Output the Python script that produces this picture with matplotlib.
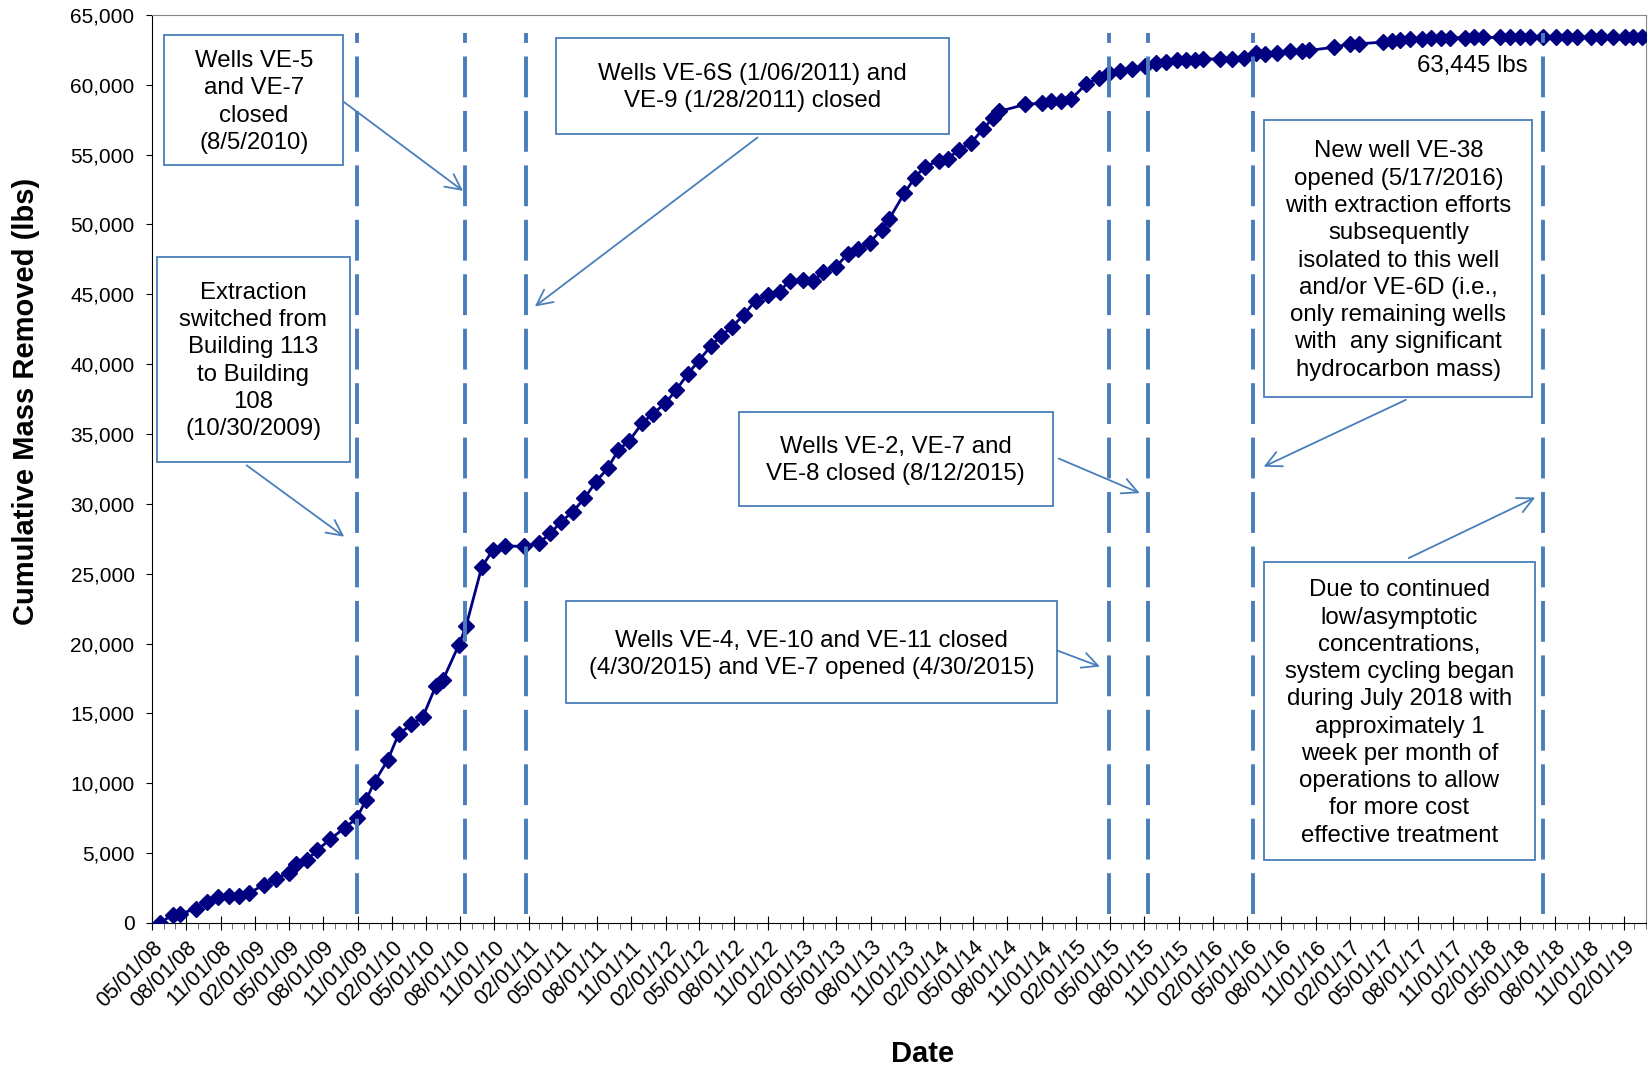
import matplotlib.pyplot as plt
import matplotlib.dates as mdates
import pandas as pd
from matplotlib.patches import Rectangle
from matplotlib.ticker import FuncFormatter, MultipleLocator

plt.rcParams['font.family'] = ['Liberation Sans', 'DejaVu Sans']

# sample dates and cumulative mass removed (lbs)
dates = [
    '2008-05-23', '2008-06-25', '2008-07-16', '2008-08-27', '2008-09-25', '2008-10-23', '2008-11-23', '2008-12-18',
    '2009-01-16', '2009-02-25', '2009-03-28', '2009-05-01', '2009-05-21', '2009-06-18', '2009-07-16', '2009-08-20',
    '2009-09-28', '2009-10-29', '2009-11-23', '2009-12-16',
    '2010-01-20', '2010-02-18', '2010-03-24', '2010-04-24', '2010-05-28', '2010-06-16', '2010-07-29', '2010-08-17',
    '2010-09-28', '2010-10-27', '2010-11-28',
    '2011-01-18', '2011-03-01', '2011-03-30', '2011-04-28', '2011-05-29', '2011-06-29', '2011-07-30', '2011-08-30',
    '2011-09-28', '2011-10-27', '2011-11-30', '2011-12-28',
    '2012-01-31', '2012-02-29', '2012-03-31', '2012-04-29', '2012-06-01', '2012-06-28', '2012-07-28', '2012-08-27',
    '2012-09-28', '2012-10-30', '2012-12-01', '2012-12-28',
    '2013-02-01', '2013-02-28', '2013-03-28', '2013-05-01', '2013-06-01', '2013-06-28', '2013-07-29', '2013-08-30',
    '2013-09-19', '2013-10-30', '2013-11-26', '2013-12-23',
    '2014-01-31', '2014-02-22', '2014-03-24', '2014-04-25', '2014-05-28', '2014-06-23', '2014-07-09', '2014-09-18',
    '2014-11-02', '2014-11-26', '2014-12-23',
    '2015-01-18', '2015-02-27', '2015-04-02', '2015-04-30', '2015-05-27', '2015-06-28', '2015-08-02', '2015-09-02',
    '2015-09-27', '2015-10-27', '2015-11-21', '2015-12-14',
    '2016-01-05', '2016-02-18', '2016-03-23', '2016-04-23', '2016-05-25', '2016-06-18', '2016-07-21', '2016-08-24',
    '2016-09-24', '2016-10-14', '2016-12-19',
    '2017-02-01', '2017-02-24', '2017-04-29', '2017-05-22', '2017-06-13', '2017-07-10', '2017-08-10', '2017-09-05',
    '2017-10-02', '2017-10-26', '2017-12-03', '2017-12-27',
    '2018-01-21', '2018-03-07', '2018-04-04', '2018-04-29', '2018-05-26', '2018-06-29', '2018-08-05', '2018-09-01',
    '2018-09-28', '2018-11-06', '2018-12-03',
    '2019-01-03', '2019-02-03', '2019-02-25', '2019-03-20',
]
mass = [
    0, 600, 650, 1030, 1500, 1860, 1910, 1930,
    2150, 2750, 3180, 3580, 4250, 4490, 5210, 6000, 6830, 7480, 8790, 10100,
    11650, 13500, 14210, 14760, 16930, 17360, 19910, 21230, 25470, 26670, 27000,
    26950, 27220, 27890, 28720, 29440, 30400, 31590, 32550, 33860, 34530, 35770, 36440,
    37200, 38160, 39300, 40240, 41310, 42030, 42690, 43530, 44550, 44960, 45200, 45990,
    46000, 45950, 46630, 46990, 47900, 48240, 48710, 49620, 50380, 52250, 53320, 54150,
    54560, 54680, 55350, 55830, 56830, 57620, 58090, 58600, 58690, 58810, 58810,
    58980, 60050, 60480, 60840, 60960, 61130, 61370, 61560, 61600, 61750, 61750, 61800,
    61850, 61850, 61850, 61920, 62280, 62230, 62280, 62390, 62390, 62460, 62690,
    62940, 62940, 63050, 63120, 63200, 63260, 63300, 63340, 63360, 63370, 63380, 63390,
    63395, 63400, 63405, 63410, 63415, 63420, 63425, 63428, 63430, 63433, 63436,
    63439, 63441, 63443, 63445,
]

# dates of system changes (dashed lines)
event_dates = ['2009-10-30', '2010-08-15', '2011-01-25', '2015-04-30', '2015-08-12', '2016-05-17', '2018-07-01']

notes = [
    'Wells VE-5\nand VE-7\nclosed\n(8/5/2010)',
    'Extraction\nswitched from\nBuilding 113\nto Building\n108\n(10/30/2009)',
    'Wells VE-6S (1/06/2011) and\nVE-9 (1/28/2011) closed',
    'Wells VE-2, VE-7 and\nVE-8 closed (8/12/2015)',
    'Wells VE-4, VE-10 and VE-11 closed\n(4/30/2015) and VE-7 opened (4/30/2015)',
    'New well VE-38\nopened (5/17/2016)\nwith extraction efforts\nsubsequently\nisolated to this well\n'
    'and/or VE-6D (i.e.,\nonly remaining wells\nwith  any significant\nhydrocarbon mass)',
    'Due to continued\nlow/asymptotic\nconcentrations,\nsystem cycling began\nduring July 2018 with\n'
    'approximately 1\nweek per month of\noperations to allow\nfor more cost\neffective treatment',
]
total_label = '63,445 lbs'

# box layout in axes fraction: (x0, x1, y_bottom, y_top), arrow tail -> head
boxes = [
    (0.0084, 0.1281, 0.8345, 0.978),
    (0.0035, 0.1323, 0.5081, 0.7338),
    (0.2702, 0.5334, 0.8692, 0.9745),
    (0.3927, 0.6031, 0.4595, 0.5625),
    (0.2773, 0.6059, 0.2419, 0.3542),
    (0.7445, 0.9240, 0.5787, 0.8843),
    (0.7445, 0.9254, 0.0694, 0.3970),
]
arrows = [
    ((0.1267, 0.9063), (0.2097, 0.8044)),
    ((0.0619, 0.5058), (0.1302, 0.4236)),
    ((0.4068, 0.8669), (0.2548, 0.6771)),
    ((0.6052, 0.5127), (0.6629, 0.4722)),
    ((0.6045, 0.3009), (0.6362, 0.2813)),
    ((0.8410, 0.5775), (0.7424, 0.5012)),
    ((0.8395, 0.4005), (0.9275, 0.4699)),
]

blue = '#4A7EBB'
navy = '#000080'

fig = plt.figure(figsize=(16.48, 10.68), dpi=100)
ax = fig.add_axes([0.0922, 0.1358, 0.9066, 0.8502])

x = pd.to_datetime(dates)
ax.plot(x, mass, color=navy, lw=2, marker='D', ms=8.5, zorder=4)

for d in event_dates:
    ax.axvline(pd.Timestamp(d), ymin=0.01, ymax=0.98, color=blue, lw=2.8, dashes=(10.5, 3.5), zorder=5)

for (x0, x1, y0, y1), txt in zip(boxes, notes):
    ax.add_patch(Rectangle((x0, y0), x1 - x0, y1 - y0, transform=ax.transAxes,
                           facecolor='white', edgecolor=blue, lw=1.3, zorder=6))
    ax.text((x0 + x1) / 2, (y0 + y1) / 2 - 0.002, txt, transform=ax.transAxes, ha='center', va='center',
            fontsize=17.3, linespacing=1.31, zorder=7)

for tail, head in arrows:
    ax.annotate('', xy=head, xytext=tail, xycoords='axes fraction', textcoords='axes fraction',
                arrowprops=dict(arrowstyle='->', color=blue, lw=1.3, mutation_scale=28), zorder=7)

ax.text(0.8839, 0.9433, total_label, transform=ax.transAxes, ha='center', va='center', fontsize=17.3)

ax.set_xlim(pd.Timestamp('2008-05-01'), pd.Timestamp('2019-04-01'))
ax.set_ylim(0, 65000)
ax.yaxis.set_major_locator(MultipleLocator(5000))
ax.yaxis.set_major_formatter(FuncFormatter(lambda v, p: f'{v:,.0f}'))
ax.xaxis.set_major_locator(mdates.MonthLocator(bymonth=[2, 5, 8, 11]))
ax.xaxis.set_minor_locator(mdates.MonthLocator())
ax.xaxis.set_major_formatter(mdates.DateFormatter('%m/%d/%y'))

ax.tick_params(axis='y', labelsize=15, direction='out', length=4.5, pad=8)
ax.tick_params(axis='x', which='major', labelsize=15.5, direction='inout', length=10, pad=5)
ax.tick_params(axis='x', which='minor', direction='out', length=4, color='#555555')
plt.setp(ax.get_xticklabels(), rotation=45, ha='right', rotation_mode='anchor')

for side in ['top', 'right']:
    ax.spines[side].set_color('#868686')

ax.set_ylabel('Cumulative Mass Removed (lbs)', fontsize=21, fontweight='bold')
ax.yaxis.set_label_coords(-0.075, 0.574)
ax.set_xlabel('Date', fontsize=21, fontweight='bold')
ax.xaxis.set_label_coords(0.516, -0.129)

fig.savefig('out.png', dpi=100)
